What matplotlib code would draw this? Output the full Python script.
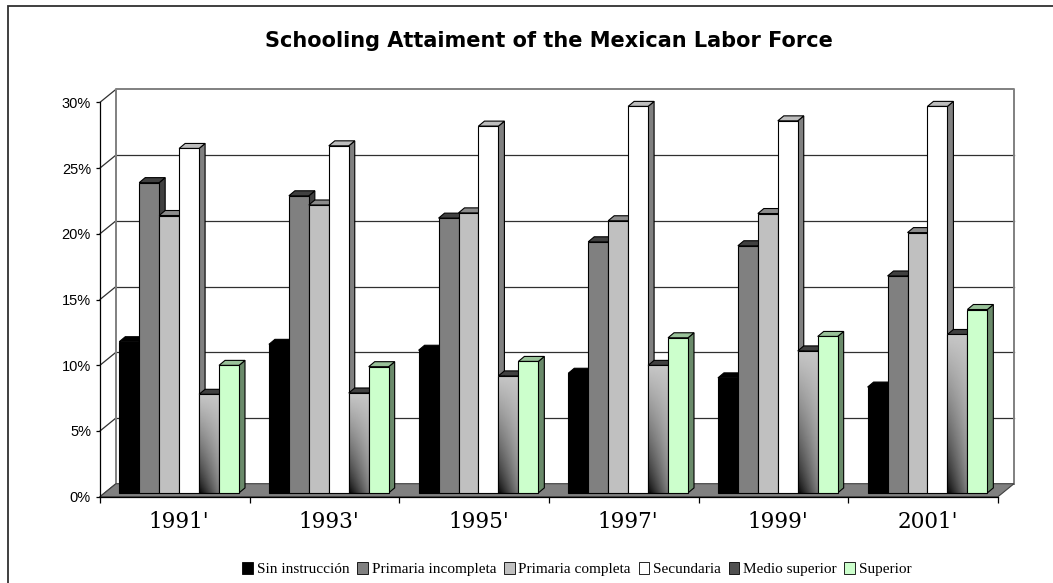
import numpy as np
import matplotlib
matplotlib.use('Agg')
import matplotlib.pyplot as plt
from matplotlib.patches import Polygon, Rectangle, Patch
from matplotlib.ticker import FuncFormatter

# Labor force share by schooling level (%)
years = ["1991'", "1993'", "1995'", "1997'", "1999'", "2001'"]
series_names = ['Sin instrucción', 'Primaria incompleta', 'Primaria completa',
                'Secundaria', 'Medio superior', 'Superior']
sin_instruccion = [11.5, 11.3, 10.85, 9.1, 8.75, 8.05]
primaria_incompleta = [23.6, 22.6, 20.9, 19.1, 18.8, 16.5]
primaria_completa = [21.1, 21.9, 21.3, 20.7, 21.25, 19.8]
secundaria = [26.2, 26.4, 27.9, 29.4, 28.3, 29.4]
medio_superior = [7.5, 7.6, 8.9, 9.7, 10.8, 12.05]
superior = [9.7, 9.6, 10.0, 11.8, 11.9, 13.95]

series = [sin_instruccion, primaria_incompleta, primaria_completa,
          secundaria, medio_superior, superior]
# front, top and side face colours for each series
face_colors = ['#000000', '#808080', '#c0c0c0', '#ffffff', None, '#ccffcc']
top_colors = ['#000000', '#404040', '#8c8c8c', '#bdbdbd', '#404040', '#99c299']
side_colors = ['#000000', '#404040', '#707070', '#808080', '#404040', '#6a8a6a']
legend_colors = ['#000000', '#808080', '#c0c0c0', '#ffffff', '#505050', '#ccffcc']

W, H = 1053, 583
fig = plt.figure(figsize=(W / 100, H / 100), dpi=100)

# frame around the chart area
fig.patches.append(Rectangle((7.5 / W, -0.1), 1.2, 1 - 5.5 / H + 0.1,
                             transform=fig.transFigure, fill=False,
                             edgecolor='#303030', lw=1.3))

ax_l, ax_r, ax_b, ax_t = 100, 998, 496.7, 102.3
ax = fig.add_axes([ax_l / W, (H - ax_b) / H, (ax_r - ax_l) / W, (ax_b - ax_t) / H])
ncat, ymax = len(years), 30
ax.set_xlim(0, ncat)
ax.set_ylim(0, ymax)

# pixel -> data conversion for the oblique depth offsets
px_x = ncat / (ax_r - ax_l)
px_y = ymax / (ax_b - ax_t)
Dx, Dy = 16 * px_x, 13 * px_y          # wall depth
fx, fy = 4.3 * px_x, 3.8 * px_y        # bar front face offset
bx, by = 6.0 * px_x, 5.0 * px_y        # bar depth

wall_gray = '#808080'
grid_col = '#303030'

# floor, side wall and back wall
ax.add_patch(Polygon([(0, 0), (Dx, Dy), (Dx, ymax + Dy), (0, ymax)],
                     closed=True, facecolor='white', edgecolor='none',
                     clip_on=False, zorder=1))
ax.add_patch(Rectangle((Dx, Dy), ncat, ymax, facecolor='white',
                       edgecolor='none', clip_on=False, zorder=1))
for v in range(0, ymax + 1, 5):
    ax.plot([0, Dx], [v, v + Dy], color=grid_col, lw=0.9, clip_on=False, zorder=2)
    if 0 < v < ymax:
        ax.plot([Dx, ncat + Dx], [v + Dy, v + Dy], color=grid_col, lw=0.9,
                clip_on=False, zorder=2)
ax.plot([Dx, Dx, ncat + Dx, ncat + Dx], [Dy, ymax + Dy, ymax + Dy, Dy],
        color=wall_gray, lw=1.4, clip_on=False, zorder=2)
ax.add_patch(Polygon([(0, 0), (ncat, 0), (ncat + Dx, Dy), (Dx, Dy)],
                     closed=True, facecolor='#808080', edgecolor='#404040',
                     lw=0.8, clip_on=False, zorder=3))

# 3D columns, drawn left to right so nearer bars cover the ones behind
w = 0.8 / len(series)
for j, vals in enumerate(series):
    x0 = np.arange(ncat) + 0.1 + j * w + fx
    bars = ax.bar(x0, vals, width=w, bottom=fy, align='edge',
                  color=face_colors[j] if face_colors[j] else 'none',
                  edgecolor='black', lw=0.8)
    for i, (bar, v) in enumerate(zip(bars, vals)):
        z = 10 + (i * len(series) + j) * 0.1
        xl, xr, yt = bar.get_x(), bar.get_x() + w, fy + v
        ax.add_patch(Polygon([(xr, fy), (xr + bx, fy + by), (xr + bx, yt + by), (xr, yt)],
                             closed=True, facecolor=side_colors[j], edgecolor='black',
                             lw=0.8, clip_on=False, zorder=z))
        ax.add_patch(Polygon([(xl, yt), (xr, yt), (xr + bx, yt + by), (xl + bx, yt + by)],
                             closed=True, facecolor=top_colors[j], edgecolor='black',
                             lw=0.8, clip_on=False, zorder=z + 0.01))
        bar.set_zorder(z + 0.03)
        bar.set_clip_on(False)
        if face_colors[j] is None:
            # shaded face: dark at the bottom left, light towards the top
            gx, gy = np.meshgrid(np.linspace(0, 1, 30), np.linspace(0, 1, 120))
            shade = 0.78 * (1 - (1 - gy ** 0.7) * (1 - 0.6 * gx))
            img = ax.imshow(shade, cmap='gray', vmin=0, vmax=1, origin='lower',
                            extent=(xl, xr, fy, yt), aspect='auto',
                            interpolation='bilinear', zorder=z + 0.02)
            img.set_clip_path(bar)

ax.set_xlim(0, ncat)
ax.set_ylim(0, ymax)

for s in ['top', 'right']:
    ax.spines[s].set_visible(False)
for s in ['left', 'bottom']:
    ax.spines[s].set_color('black')
    ax.spines[s].set_linewidth(0.9)
    ax.spines[s].set_zorder(5)

ax.set_yticks(range(0, ymax + 1, 5))
ax.yaxis.set_major_formatter(FuncFormatter(lambda v, p: f'{v:.0f}%'))
ax.tick_params(axis='y', direction='out', length=3, width=0.9, pad=3.5,
               labelsize=10.5)
for lab in ax.get_yticklabels():
    lab.set_fontfamily('Liberation Sans')

ax.set_xticks(range(ncat + 1))
ax.set_xticklabels([])
ax.set_xticks(np.arange(ncat) + 0.5 + fx, minor=True)
ax.set_xticklabels(years, minor=True, fontfamily='DejaVu Serif', fontsize=15.5)
ax.tick_params(axis='x', which='major', direction='out', length=4, width=0.9)
ax.tick_params(axis='x', which='minor', length=0, pad=10.5)

fig.text(548.5 / W, 1 - 41 / H, 'Schooling Attaiment of the Mexican Labor Force',
         ha='center', va='center', fontsize=15, fontweight='bold',
         fontfamily='DejaVu Sans')

handles = [Patch(facecolor=c, edgecolor='black', lw=0.6) for c in legend_colors]
fig.legend(handles, series_names, loc='center', bbox_to_anchor=(577 / W, 1 - 569 / H),
           ncol=6, frameon=False, handlelength=0.7, handleheight=0.8,
           handletextpad=0.25, columnspacing=0.5,
           prop={'family': 'Liberation Serif', 'size': 11})

fig.savefig('out.png', dpi=100)
